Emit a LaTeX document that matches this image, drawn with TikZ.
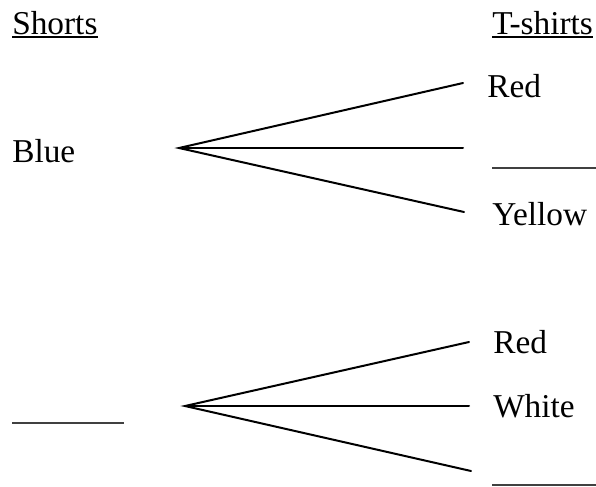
\documentclass[tikz,border=0pt]{standalone}
\usepackage{fontspec}
\setmainfont{Liberation Serif}
\begin{document}
\begin{tikzpicture}[x=0.75pt,y=-0.75pt,
  lbl/.style={anchor=base west,inner sep=0pt,font=\fontsize{25}{30}\selectfont},
  branch/.style={line width=1.5pt,line cap=round},
  blank/.style={line width=1pt,black!75},
  uline/.style={line width=1.2pt}]
\useasboundingbox (0,0) rectangle (596,486);
\clip (0,0) rectangle (596,486);
% headings
\node[lbl] (shorts) at (12,34) {Shorts};
\node[lbl] (tshirts) at (492,34) {T-shirts};
\draw[uline] ([yshift=-2.3pt]shorts.base west) -- ([yshift=-2.3pt]shorts.base east);
\draw[uline] ([yshift=-2.3pt]tshirts.base west) -- ([yshift=-2.3pt]tshirts.base east);
% first tree
\node[lbl] (blue) at (12,162) {Blue};
\coordinate (a1) at (179,148);
\coordinate (e11) at (463,83);
\coordinate (e12) at (463,148);
\coordinate (e13) at (464,212);
\draw[branch] (e11) -- (a1) -- (e13);
\draw[branch] (a1) -- (e12);
\node[lbl] (red1) at (487,97) {Red};
\coordinate (b1s) at (492,168);
\coordinate (b1e) at (597,168);
\draw[blank] (b1s) -- (b1e);
\node[lbl] (yellow) at (492,225) {Yellow};
% second tree
\coordinate (b2s) at (12,423);
\coordinate (b2e) at (124,423);
\draw[blank] (b2s) -- (b2e);
\coordinate (a2) at (185,406);
\coordinate (e21) at (469,342);
\coordinate (e22) at (469,406);
\coordinate (e23) at (471,471);
\draw[branch] (e21) -- (a2) -- (e23);
\draw[branch] (a2) -- (e22);
\node[lbl] (red2) at (493,353) {Red};
\node[lbl] (white) at (493,417) {White};
\coordinate (b3s) at (492,485);
\coordinate (b3e) at (597,485);
\draw[blank] (b3s) -- (b3e);
\end{tikzpicture}
\end{document}
